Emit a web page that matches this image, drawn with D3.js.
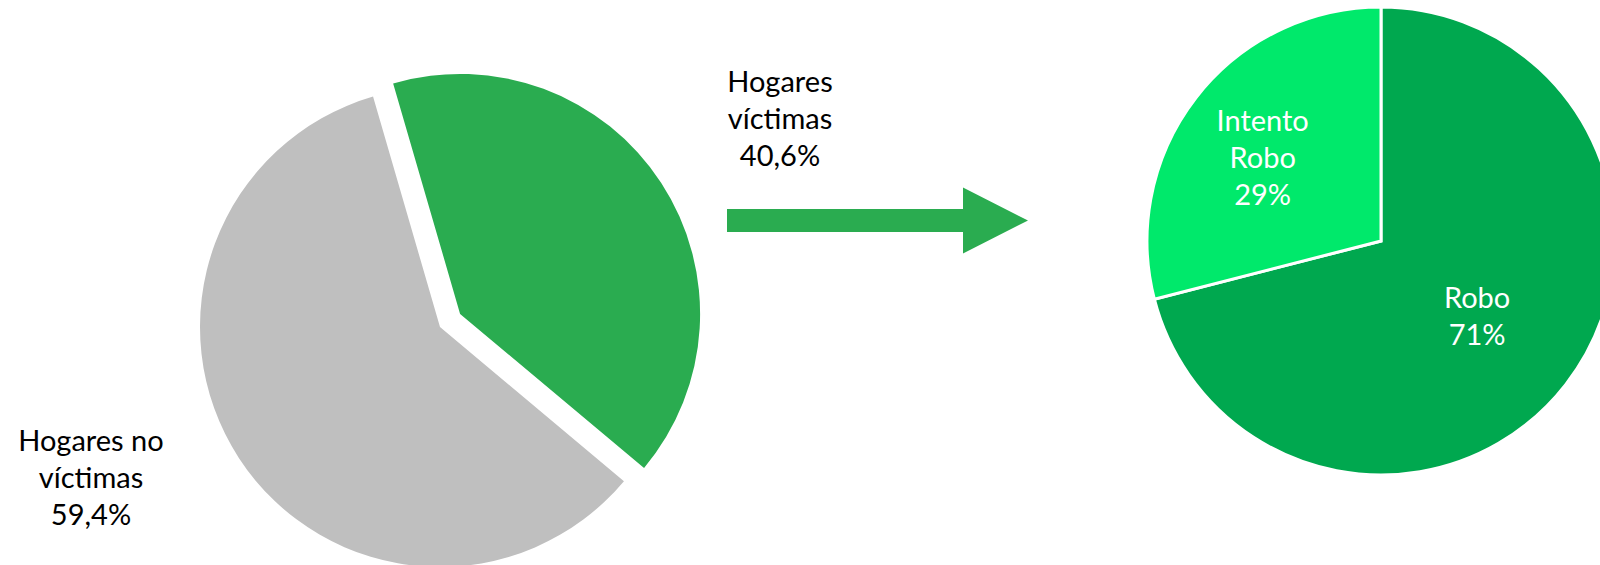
<!DOCTYPE html>
<html>
<head>
<meta charset="utf-8">
<script src="https://cdn.jsdelivr.net/npm/d3@7"></script>
<style>
  html, body { margin: 0; padding: 0; background: #fff; }
  svg { display: block; font-family: Lato, "Open Sans", sans-serif; }
</style>
</head>
<body>
<div id="chart"></div>
<script>
// datos: hogares victimas / no victimas
const hogaresKeys = ["victimas", "no victimas"];
const hogaresLines = [["Hogares", "víctimas"], ["Hogares no", "víctimas"]];
const hogaresValues = [40.6, 59.4];

// datos: tipo de delito entre hogares victimas
const tipoKeys = ["robo", "intento"];
const tipoLines = [["Robo"], ["Intento", "Robo"]];
const tipoValues = [71, 29];

const width = 1600;
const height = 565;
const fontSize = 29;
const lineHeight = 37;

const fmtDec = (v) => d3.format(".1f")(v).replace(".", ",") + "%";
const fmtInt = (v) => d3.format(".0f")(v) + "%";

const svg = d3
  .select("#chart")
  .append("svg")
  .attr("width", width)
  .attr("height", height);

const deg = Math.PI / 180;

function polar(angle, r) {
  return [Math.sin(angle) * r, -Math.cos(angle) * r];
}

function drawLabel(g, x, y, lines, color, anchorMiddle) {
  const t = g
    .append("text")
    .attr("x", x)
    .attr("y", y)
    .attr("text-anchor", "middle")
    .attr("fill", color)
    .style("font-size", fontSize + "px");
  const offset = anchorMiddle ? -((lines.length - 1) * lineHeight) / 2 : 0;
  lines.forEach((line, i) => {
    t.append("tspan")
      .attr("x", x)
      .attr("y", y + offset + i * lineHeight)
      .text(line);
  });
}

// ---- pie izquierdo ----
const left = { cx: 440, cy: 327, r: 240, explode: 24 };
const leftColors = d3.scaleOrdinal().domain(hogaresKeys).range(["#2AAC50", "#BFBFBF"]);

const leftPie = d3
  .pie()
  .sort(null)
  .startAngle(-16.2 * deg)
  .endAngle(-16.2 * deg + 2 * Math.PI);

const leftArc = d3.arc().innerRadius(0).outerRadius(left.r);

const leftData = leftPie(hogaresValues);

const gLeft = svg.append("g").attr("transform", `translate(${left.cx},${left.cy})`);

gLeft
  .selectAll("path")
  .data(leftData)
  .enter()
  .append("path")
  .attr("d", leftArc)
  .attr("fill", (d, i) => leftColors(hogaresKeys[i]))
  .attr("transform", (d, i) => {
    if (i !== 0) return null;
    const mid = (d.startAngle + d.endAngle) / 2;
    const [dx, dy] = polar(mid, left.explode);
    return `translate(${dx},${dy})`;
  });

// etiquetas fuera del pie
const leftLabelPos = [
  [340, -235],
  [-349, 124],
];
leftData.forEach((d, i) => {
  const [x, y] = leftLabelPos[i];
  drawLabel(gLeft, x, y, hogaresLines[i].concat(fmtDec(d.data)), "#000", false);
});

// ---- flecha ----
const arrow = { x0: 727, x1: 963, tip: 1028, cy: 220.5, shaft: 23, head: 66 };
svg
  .append("path")
  .attr(
    "d",
    d3.line()([
      [arrow.x0, arrow.cy - arrow.shaft / 2],
      [arrow.x1, arrow.cy - arrow.shaft / 2],
      [arrow.x1, arrow.cy - arrow.head / 2],
      [arrow.tip, arrow.cy],
      [arrow.x1, arrow.cy + arrow.head / 2],
      [arrow.x1, arrow.cy + arrow.shaft / 2],
      [arrow.x0, arrow.cy + arrow.shaft / 2],
    ]) + "Z"
  )
  .attr("fill", "#2AAC50");

// ---- pie derecho ----
const right = { cx: 1381, cy: 241, r: 234 };
const rightColors = d3.scaleOrdinal().domain(tipoKeys).range(["#00A84F", "#00E96B"]);

const rightPie = d3.pie().sort(null);
const rightArc = d3.arc().innerRadius(0).outerRadius(right.r);
const rightData = rightPie(tipoValues);

const gRight = svg.append("g").attr("transform", `translate(${right.cx},${right.cy})`);

gRight
  .selectAll("path")
  .data(rightData)
  .enter()
  .append("path")
  .attr("d", rightArc)
  .attr("fill", (d, i) => rightColors(tipoKeys[i]))
  .attr("stroke", "#fff")
  .attr("stroke-width", 3)
  .attr("stroke-linejoin", "miter");

// etiquetas dentro
const rightLabelR = [0.52, 0.64];
const rightLabelDy = [11, 19];
rightData.forEach((d, i) => {
  const mid = (d.startAngle + d.endAngle) / 2;
  const [x, y] = polar(mid, right.r * rightLabelR[i]);
  drawLabel(gRight, x, y + rightLabelDy[i], tipoLines[i].concat(fmtInt(d.data)), "#fff", true);
});
</script>
</body>
</html>
